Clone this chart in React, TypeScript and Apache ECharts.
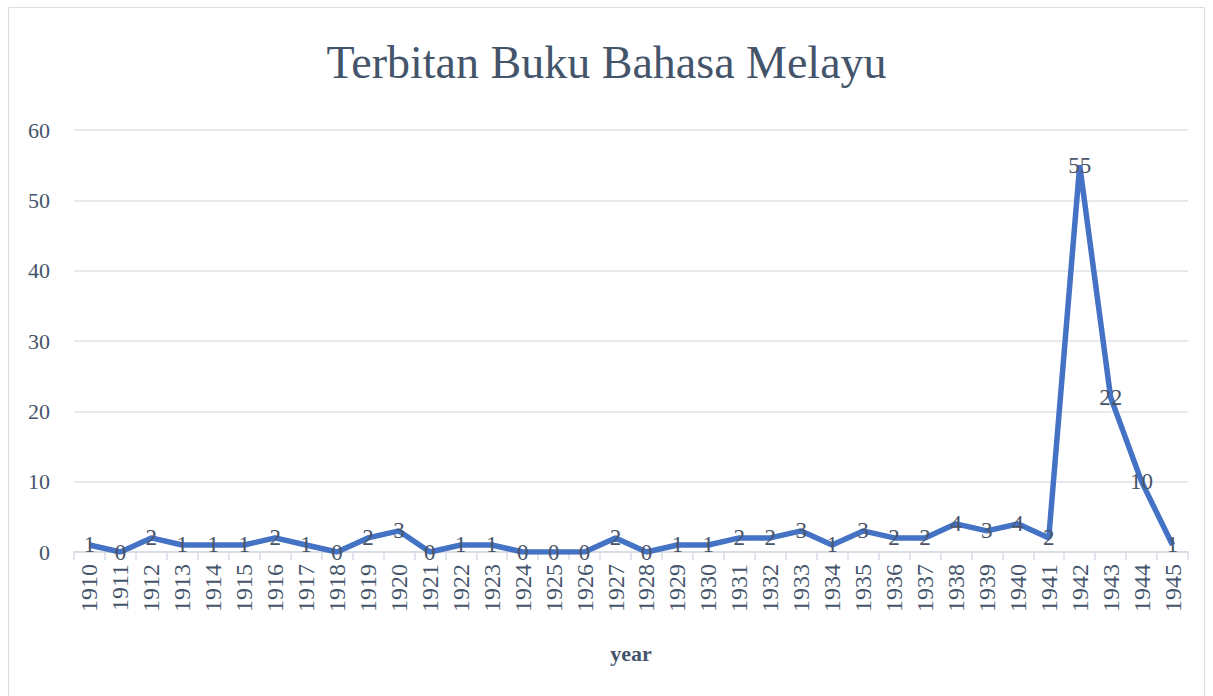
import React, { useEffect, useRef } from "react";
import * as echarts from "echarts";

const years: string[] = [
  "1910","1911","1912","1913","1914","1915","1916","1917","1918","1919",
  "1920","1921","1922","1923","1924","1925","1926","1927","1928","1929",
  "1930","1931","1932","1933","1934","1935","1936","1937","1938","1939",
  "1940","1941","1942","1943","1944","1945",
];
const books: number[] = [
  1,0,2,1,1,1,2,1,0,2,
  3,0,1,1,0,0,0,2,0,1,
  1,2,2,3,1,3,2,2,4,3,
  4,2,55,22,10,1,
];
const titleText = "Terbitan Buku Bahasa Melayu";
const xName = "year";

const FONT = "Liberation Serif";
const TXT = "#44546A";

export default function App() {
  const ref = useRef<HTMLDivElement>(null);
  useEffect(() => {
    if (!ref.current) return;
    const chart = echarts.init(ref.current, undefined, { renderer: "svg" });
    chart.setOption({
      animation: false,
      backgroundColor: "#ffffff",
      title: {
        text: titleText,
        left: "center",
        top: 34,
        textStyle: { fontFamily: FONT, fontSize: 46, fontWeight: "normal", color: TXT },
      },
      graphic: [
        {
          type: "rect",
          shape: { x: 8.5, y: 7.5, width: 1196, height: 690 },
          style: { fill: "none", stroke: "#d9dde5", lineWidth: 1 },
          silent: true,
        },
      ],
      grid: { left: 74, right: 25, top: 130, bottom: 144 },
      xAxis: {
        type: "category",
        data: years,
        boundaryGap: true,
        name: xName,
        nameLocation: "middle",
        nameGap: 90,
        nameTextStyle: { fontFamily: FONT, fontSize: 22, fontWeight: "bold", color: TXT },
        axisLine: { lineStyle: { color: "#d9dde5", width: 2 } },
        axisTick: { show: true, alignWithLabel: false, length: 8, lineStyle: { color: "#d9dde5", width: 1.5 } },
        axisLabel: {
          rotate: 90,
          interval: 0,
          margin: 12,
          fontFamily: FONT,
          fontSize: 24,
          color: TXT,
        },
        splitLine: { show: false },
      },
      yAxis: {
        type: "value",
        min: 0,
        max: 60,
        interval: 10,
        axisLine: { show: false },
        axisTick: { show: false },
        axisLabel: { fontFamily: FONT, fontSize: 22, color: TXT, margin: 24 },
        splitLine: { lineStyle: { color: "#dfe2ea", width: 1.5 } },
      },
      series: [
        {
          type: "line",
          data: books,
          symbol: "circle",
          symbolSize: 0,
          showSymbol: true,
          lineStyle: { color: "#4472C4", width: 5.5 },
          itemStyle: { color: "#4472C4" },
          label: {
            show: true,
            position: "inside",
            fontFamily: FONT,
            fontSize: 23,
            color: "#4a5468",
          },
        },
      ],
    });
    return () => chart.dispose();
  }, []);
  return (
    <div
      ref={ref}
      style={{ position: "fixed", left: 0, top: 0, width: 1213, height: 696 }}
    />
  );
}
